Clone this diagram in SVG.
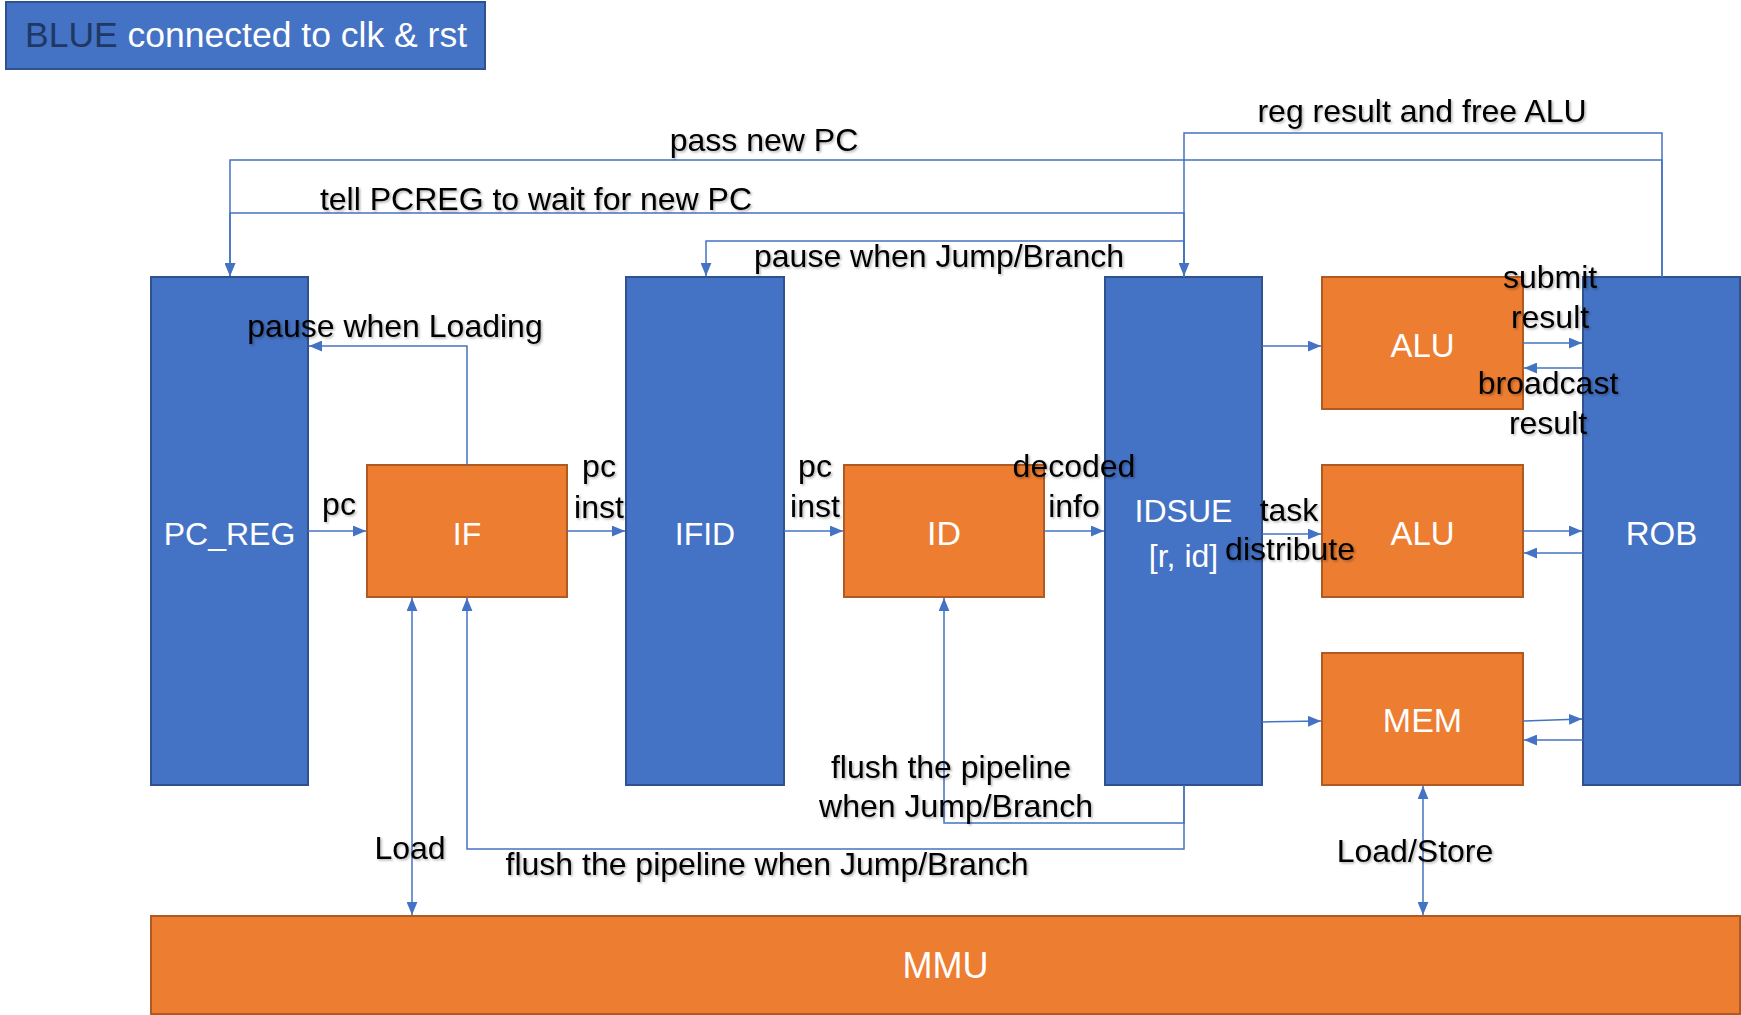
<svg xmlns="http://www.w3.org/2000/svg" width="1741" height="1015" viewBox="0 0 1741 1015">
<defs>
<style>
.blue{fill:#4472C4;stroke:#2F528F;stroke-width:2}
.orange{fill:#ED7D31;stroke:#AE5A21;stroke-width:2}
.nl{font-family:"Liberation Sans",Arial,sans-serif;font-size:32px;fill:#FFFFFF;text-anchor:middle}
.cl{font-family:"Liberation Sans",Arial,sans-serif;font-size:32px;fill:#000000;text-anchor:middle;filter:url(#sh)}
.ln{fill:none;stroke:#4472C4;stroke-width:1.5}
.ar{marker-end:url(#ah)}
.ar2{marker-start:url(#ah);marker-end:url(#ah)}
</style>
<marker id="ah" markerUnits="userSpaceOnUse" markerWidth="13" markerHeight="11" refX="12" refY="5" orient="auto-start-reverse" viewBox="0 0 12 10">
<path d="M0,0 L12,5 L0,10 z" fill="#4472C4"/>
</marker>
<filter id="sh" x="-10%" y="-30%" width="120%" height="160%">
<feDropShadow dx="1.5" dy="1.5" stdDeviation="1" flood-color="#000" flood-opacity="0.3"/>
</filter>
</defs>
<rect width="1741" height="1015" fill="#FFFFFF"/>

<g id="legend">
<rect x="6" y="2" width="479" height="67" class="blue"/>
<text x="25" y="47" font-family="Liberation Sans,Arial,sans-serif" font-size="35.5" fill="#FFFFFF"><tspan fill="#203864">BLUE</tspan> connected to clk &amp; rst</text>
</g>

<g id="PC_REG"><rect x="151" y="277" width="157" height="508" class="blue"/><text x="229.5" y="545" class="nl" font-size="30">PC_REG</text></g>
<g id="IF"><rect x="367" y="465" width="200" height="132" class="orange"/><text x="467" y="545" class="nl">IF</text></g>
<g id="IFID"><rect x="626" y="277" width="158" height="508" class="blue"/><text x="705" y="545" class="nl">IFID</text></g>
<g id="ID"><rect x="844" y="465" width="200" height="132" class="orange"/><text x="944" y="545" class="nl" style="font-size:34px">ID</text></g>
<g id="IDSUE"><rect x="1105" y="277" width="157" height="508" class="blue"/><text x="1183.5" y="522" class="nl">IDSUE</text><text x="1183.5" y="567" class="nl">[r, id]</text></g>
<g id="ALU1"><rect x="1322" y="277" width="201" height="132" class="orange"/><text x="1422.5" y="357" class="nl" style="font-size:33px">ALU</text></g>
<g id="ALU2"><rect x="1322" y="465" width="201" height="132" class="orange"/><text x="1422.5" y="545" class="nl" style="font-size:33px">ALU</text></g>
<g id="MEM"><rect x="1322" y="653" width="201" height="132" class="orange"/><text x="1422.5" y="732" class="nl" style="font-size:34px">MEM</text></g>
<g id="ROB"><rect x="1583" y="277" width="157" height="508" class="blue"/><text x="1661.5" y="545" class="nl" style="font-size:33px">ROB</text></g>
<g id="MMU"><rect x="151" y="916" width="1589" height="98" class="orange"/><text x="945.5" y="978" class="nl" style="font-size:36px">MMU</text></g>

<g id="connectors">
<path class="ln ar" d="M308,531 H366"/>
<path class="ln ar" d="M567,531 H625"/>
<path class="ln ar" d="M784,531 H843"/>
<path class="ln ar" d="M1044,531 H1104"/>
<path class="ln ar" d="M467,465 V346 H309"/>
<path class="ln ar" d="M1662,277 V133 H1184 V276"/>
<path class="ln ar" d="M1662,277 V160 H230 V276"/>
<path class="ln ar" d="M1184,277 V213 H230 V276"/>
<path class="ln ar" d="M1184,277 V241 H706 V276"/>
<path class="ln ar" d="M1262,346 H1321"/>
<path class="ln ar" d="M1262,534 H1321"/>
<path class="ln ar" d="M1262,722 L1321,721"/>
<path class="ln ar" d="M1523,343 H1582"/>
<path class="ln ar" d="M1583,368 H1524"/>
<path class="ln ar" d="M1523,531 H1582"/>
<path class="ln ar" d="M1583,553 H1524"/>
<path class="ln ar" d="M1523,721 L1582,719"/>
<path class="ln ar" d="M1583,740 H1524"/>
<path class="ln ar2" d="M412,598 V915"/>
<path class="ln ar" d="M1184,785 V849 H467 V598"/>
<path class="ln ar" d="M1184,785 V823 H944 V598"/>
<path class="ln ar2" d="M1423,786 V915"/>

<text class="cl" x="339" y="515">pc</text>
<text class="cl" x="599" y="477">pc</text>
<text class="cl" x="599" y="518">inst</text>
<text class="cl" x="815" y="477">pc</text>
<text class="cl" x="815" y="517">inst</text>
<text class="cl" x="1074" y="477">decoded</text>
<text class="cl" x="1074" y="517">info</text>
<text class="cl" x="395" y="337">pause when Loading</text>
<text class="cl" x="1422" y="122">reg result and free ALU</text>
<text class="cl" x="764" y="151">pass new PC</text>
<text class="cl" x="536" y="210">tell PCREG to wait for new PC</text>
<text class="cl" x="939" y="267">pause when Jump/Branch</text>
<text class="cl" x="1289" y="521">task</text>
<text class="cl" x="1290" y="560">distribute</text>
<text class="cl" x="1550" y="288">submit</text>
<text class="cl" x="1550" y="328">result</text>
<text class="cl" x="1548" y="394">broadcast</text>
<text class="cl" x="1548" y="434">result</text>
<text class="cl" x="410" y="859">Load</text>
<text class="cl" x="767" y="875">flush the pipeline when Jump/Branch</text>
<text class="cl" x="951" y="778">flush the pipeline</text>
<text class="cl" x="956" y="817">when Jump/Branch</text>
<text class="cl" x="1415" y="862">Load/Store</text>
</g>
</svg>
